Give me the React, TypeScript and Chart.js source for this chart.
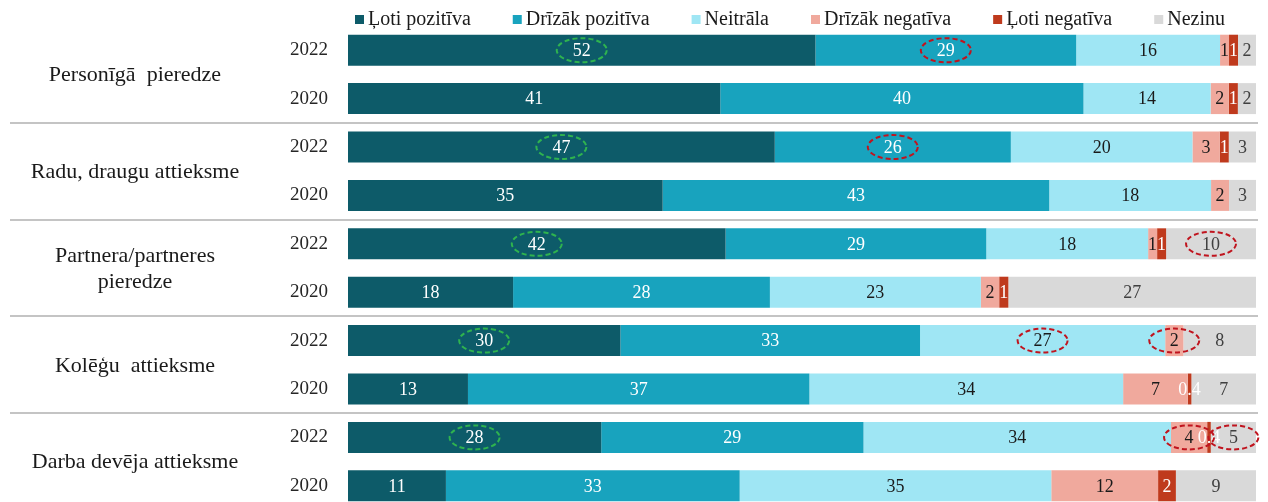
import React, { useEffect, useRef } from "react";
import { Chart, registerables } from "chart.js";

Chart.register(...registerables);

const FONT = "'Liberation Serif', 'Times New Roman', serif";

// Group (category) labels; multi-line where the reference wraps
const groups: string[][] = [
  ["Personīgā  pieredze"],
  ["Radu, draugu attieksme"],
  ["Partnera/partneres", "pieredze"],
  ["Kolēģu  attieksme"],
  ["Darba devēja attieksme"],
];
const years = ["2022", "2020"];
const rowLabels = groups.flatMap(() => years);

const seriesNames = [
  "Ļoti pozitīva",
  "Drīzāk pozitīva",
  "Neitrāla",
  "Drīzāk negatīva",
  "Ļoti negatīva",
  "Nezinu",
];

// rows: P2022, P2020, R2022, R2020, Pa2022, Pa2020, K2022, K2020, D2022, D2020
const lotiPozitiva = [52, 41, 47, 35, 42, 18, 30, 13, 28, 11];
const drizakPozitiva = [29, 40, 26, 43, 29, 28, 33, 37, 29, 33];
const neitrala = [16, 14, 20, 18, 18, 23, 27, 34, 34, 35];
const drizakNegativa = [1, 2, 3, 2, 1, 2, 2, 7, 4, 12];
const lotiNegativa = [1, 1, 1, 0, 1, 1, 0, 0.4, 0.4, 2];
const nezinu = [2, 2, 3, 3, 10, 27, 8, 7, 5, 9];

const series = [lotiPozitiva, drizakPozitiva, neitrala, drizakNegativa, lotiNegativa, nezinu];

const seriesColors = ["#0d5b69", "#18a3be", "#9fe6f4", "#f0a99d", "#bf3a1d", "#d9d9d9"];
const labelColors = ["#ffffff", "#ffffff", "#1a1a1a", "#1a1a1a", "#ffffff", "#404040"];

// dashed ellipse highlights: row index, series index, colour
const highlightRows = [0, 2, 4, 6, 8, 0, 2, 4, 6, 6, 8, 8];
const highlightSeries = [0, 0, 0, 0, 0, 1, 1, 5, 2, 3, 3, 5];
const highlightColors = [
  "#2fb34f", "#2fb34f", "#2fb34f", "#2fb34f", "#2fb34f",
  "#c0141e", "#c0141e", "#c0141e", "#c0141e", "#c0141e", "#c0141e", "#c0141e",
];

const rowTotals = rowLabels.map((_, j) => series.reduce((a, s) => a + s[j], 0));

const overlayPlugin = {
  id: "overlay",
  beforeDatasetsDraw(chart: any) {
    const { ctx, chartArea, scales } = chart;
    const y = scales.y;
    ctx.save();
    ctx.strokeStyle = "#c4c4c4";
    ctx.lineWidth = 2;
    for (let g = 0; g < groups.length - 1; g++) {
      const yy = (y.getPixelForValue(g * 2 + 1) + y.getPixelForValue(g * 2 + 2)) / 2;
      ctx.beginPath();
      ctx.moveTo(10, Math.round(yy));
      ctx.lineTo(chartArea.right + 2, Math.round(yy));
      ctx.stroke();
    }
    ctx.restore();
  },
  afterDatasetsDraw(chart: any) {
    const { ctx } = chart;
    ctx.save();
    ctx.font = `18px ${FONT}`;
    ctx.textAlign = "center";
    ctx.textBaseline = "middle";
    const centers: { x: number; y: number }[][] = [];
    series.forEach((s, i) => {
      const meta = chart.getDatasetMeta(i);
      centers[i] = [];
      meta.data.forEach((el: any, j: number) => {
        const p = el.getProps(["x", "y", "base"], true);
        const cx = (p.x + p.base) / 2;
        centers[i][j] = { x: cx, y: p.y };
        const v = s[j];
        if (!v) return;
        ctx.fillStyle = labelColors[i];
        ctx.fillText(String(v), cx, p.y + 1);
      });
    });
    // ellipses
    ctx.lineWidth = 2;
    ctx.setLineDash([5, 3]);
    highlightRows.forEach((r, k) => {
      const c = centers[highlightSeries[k]][r];
      ctx.strokeStyle = highlightColors[k];
      ctx.beginPath();
      ctx.ellipse(c.x, c.y, 25, 12, 0, 0, Math.PI * 2);
      ctx.stroke();
    });
    ctx.restore();
  },
  afterDraw(chart: any) {
    const { ctx, scales, chartArea } = chart;
    const y = scales.y;
    ctx.save();
    // group labels
    ctx.font = `22px ${FONT}`;
    ctx.fillStyle = "#1a1a1a";
    ctx.textAlign = "center";
    ctx.textBaseline = "middle";
    groups.forEach((lines, g) => {
      const mid = (y.getPixelForValue(g * 2) + y.getPixelForValue(g * 2 + 1)) / 2 + 1;
      const lh = 26;
      lines.forEach((t, li) => {
        ctx.fillText(t, 135, mid + (li - (lines.length - 1) / 2) * lh);
      });
    });
    // legend
    ctx.font = `20px ${FONT}`;
    ctx.textAlign = "left";
    ctx.textBaseline = "alphabetic";
    let x = chartArea.left + 7;
    seriesNames.forEach((name, i) => {
      ctx.fillStyle = seriesColors[i];
      ctx.fillRect(x, 15, 9, 9);
      ctx.fillStyle = "#1a1a1a";
      ctx.fillText(name, x + 13, 25);
      x += 13 + ctx.measureText(name).width + 42;
    });
    ctx.restore();
  },
};

export default function App() {
  const ref = useRef<HTMLCanvasElement | null>(null);
  useEffect(() => {
    if (!ref.current) return;
    Chart.defaults.font.family = FONT;
    const chart = new Chart(ref.current, {
      type: "bar",
      data: {
        labels: rowLabels,
        datasets: series.map((s, i) => ({
          label: seriesNames[i],
          data: s.map((v, j) => (v / rowTotals[j]) * 100),
          backgroundColor: seriesColors[i],
          borderWidth: 0,
          barPercentage: 0.64,
          categoryPercentage: 1,
        })),
      },
      options: {
        indexAxis: "y",
        responsive: false,
        maintainAspectRatio: false,
        devicePixelRatio: 1,
        animation: false,
        layout: { padding: { top: 26, right: 12, bottom: 0, left: 0 } },
        plugins: { legend: { display: false }, tooltip: { enabled: false } },
        scales: {
          x: { stacked: true, min: 0, max: 100, display: false },
          y: {
            stacked: true,
            grid: { display: false },
            border: { display: false },
            ticks: { padding: 12, color: "#262626", font: { size: 19, family: FONT } },
            afterFit: (s: any) => {
              s.width = 348;
              s.paddingTop = 0;
              s.paddingBottom = 0;
            },
          },
        },
      },
      plugins: [overlayPlugin],
    } as any);
    return () => chart.destroy();
  }, []);
  return (
    <div style={{ position: "fixed", left: 0, top: 0, width: 1268, height: 502, overflow: "hidden", background: "#fff" }}>
      <canvas ref={ref} width={1268} height={510} style={{ display: "block", width: 1268, height: 510 }} />
    </div>
  );
}
